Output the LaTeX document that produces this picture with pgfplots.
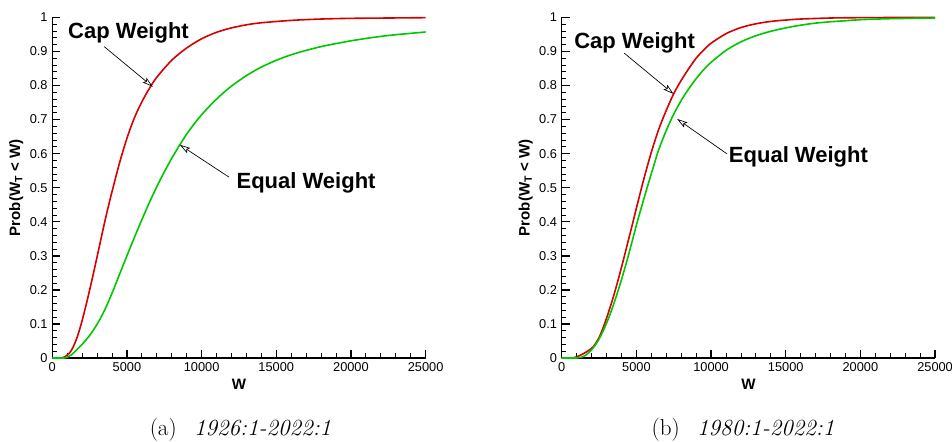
\documentclass[border=0pt]{standalone}
\usepackage{fontspec}
\usepackage{pgfplots}
\pgfplotsset{compat=1.18}
\usetikzlibrary{arrows.meta}
\newfontfamily\arial{Liberation Sans}
\definecolor{capred}{RGB}{215,0,0}
\definecolor{eqgreen}{RGB}{0,200,0}

\tikzset{
  lab/.style={font=\arial\bfseries\fontsize{16.5}{19}\selectfont, anchor=west, inner sep=0pt},
  arr/.style={-{Stealth[open,length=8pt,width=4.5pt,inset=1.5pt]}, line width=0.5pt},
}
\pgfplotsset{
  myaxis/.style={
    scale only axis,
    width=280pt, height=255.5pt,
    anchor=south west,
    xmin=0, xmax=25000, ymin=0, ymax=1,
    axis lines=left,
    axis line style={-, line width=1.1pt},
    xtick={0,5000,10000,15000,20000,25000},
    ytick={0,0.1,0.2,0.3,0.4,0.5,0.6,0.7,0.8,0.9,1},
    minor x tick num=4, minor y tick num=4,
    major tick length=6pt, minor tick length=3.5pt,
    every major tick/.style={black, line width=1.1pt},
    every minor tick/.style={black, line width=0.6pt},
    tick align=inside,
    scaled x ticks=false, scaled y ticks=false,
    /pgf/number format/1000 sep={},
    /pgf/number format/assume math mode=true,
    tick label style={font=\arial\fontsize{9.6}{11}\selectfont},
    xlabel={\arial\bfseries\fontsize{11.3}{13}\selectfont W},
    ylabel={\arial\bfseries\fontsize{11.3}{13}\selectfont Prob(W\textsubscript{T} < W)},
    xlabel style={yshift=1pt},
    ylabel style={yshift=-2pt},
    clip=false,
    every axis plot/.append style={smooth, line width=1.2pt},
  },
}

\begin{document}
\begin{tikzpicture}
\path[use as bounding box] (0,0) rectangle (714pt,331.5pt);

\begin{axis}[myaxis, at={(39.2pt,63pt)}]
\addplot[capred] coordinates {
(0,0) (600,0) (700,0.001) (900,0.005) (1100,0.012) (1300,0.024) (1500,0.042)
(1750,0.072) (2000,0.110) (2250,0.153) (2500,0.199) (2750,0.247) (3000,0.297)
(3250,0.347) (3500,0.397) (3750,0.444) (4000,0.488) (4500,0.572) (5000,0.645)
(5500,0.705) (6000,0.752) (6500,0.791) (7000,0.824) (8000,0.874) (9000,0.910)
(10000,0.937) (11000,0.956) (12000,0.969) (13000,0.978) (14000,0.984)
(16000,0.991) (18000,0.995) (20000,0.997) (22500,0.998) (25000,0.999)};
\addplot[eqgreen] coordinates {
(0,0) (800,0) (1000,0.002) (1300,0.010) (1630,0.024) (2000,0.040) (2500,0.066)
(3000,0.099) (3500,0.140) (4000,0.190) (4500,0.245) (5000,0.300) (5500,0.354)
(6000,0.406) (6500,0.456) (7000,0.503) (7500,0.546) (8000,0.586) (8500,0.623)
(9000,0.657) (9500,0.687) (10000,0.714) (10500,0.738) (11000,0.760)
(11500,0.780) (12000,0.798) (12500,0.814) (13000,0.829) (13500,0.842)
(14000,0.854) (15000,0.874) (16000,0.890) (17000,0.903)
(18000,0.914) (19000,0.923) (20000,0.931) (21000,0.938) (22000,0.944)
(23000,0.949) (24000,0.953) (25000,0.957)};
\node[lab] at (axis cs:1050,0.955) {Cap Weight};
\draw[arr] (axis cs:3476,0.914) -- (axis cs:6731,0.796);
\node[lab] at (axis cs:12326,0.515) {Equal Weight};
\draw[arr] (axis cs:11832,0.531) -- (axis cs:8536,0.626);
\end{axis}

\begin{axis}[myaxis, at={(421.3pt,63pt)}]
\addplot[capred] coordinates {
(0,0) (700,0) (900,0.002) (1200,0.007) (1500,0.014) (1800,0.022) (2127,0.034)
(2500,0.060) (2800,0.092) (3100,0.130) (3460,0.180) (3800,0.233) (4130,0.288)
(4400,0.335) (4700,0.387) (5000,0.440) (5370,0.504) (5700,0.558) (6040,0.610)
(6500,0.672) (7000,0.727) (7490,0.775) (8000,0.815) (8500,0.849) (9000,0.880)
(9500,0.904) (10000,0.924) (11000,0.952) (12000,0.970) (13000,0.981)
(14000,0.988) (15000,0.992) (16000,0.995) (18000,0.998) (20000,0.999) (25000,1.0)};
\addplot[eqgreen] coordinates {
(0,0) (1000,0) (1300,0.002) (1600,0.008) (2000,0.024) (2400,0.048) (2800,0.082)
(3200,0.124) (3577,0.171) (4000,0.230) (4362,0.285) (4700,0.340) (5034,0.396)
(5400,0.452) (5812,0.514) (6150,0.563) (6483,0.610) (7000,0.668) (7500,0.716)
(8000,0.756) (8500,0.790) (9000,0.820) (9500,0.846) (10000,0.868)
(11000,0.903) (12000,0.928) (13000,0.946) (14000,0.959) (15000,0.969)
(16000,0.977) (17000,0.983) (18000,0.987) (19000,0.990) (20000,0.993)
(22000,0.996) (25000,0.998)};
\node[lab] at (axis cs:825,0.926) {Cap Weight};
\draw[arr] (axis cs:4181,0.895) -- (axis cs:7490,0.775);
\node[lab] at (axis cs:11181,0.591) {Equal Weight};
\draw[arr] (axis cs:11074,0.599) -- (axis cs:7718,0.702);
\end{axis}

\node[anchor=base, inner sep=0pt] at (180.4pt,4.5pt) {\fontsize{17.3}{20}\selectfont (a)\hspace{0.75em}\textit{1926:1-2022:1}};
\node[anchor=base, inner sep=0pt] at (557.3pt,4.5pt) {\fontsize{17.3}{20}\selectfont (b)\hspace{0.75em}\textit{1980:1-2022:1}};
\end{tikzpicture}
\end{document}
